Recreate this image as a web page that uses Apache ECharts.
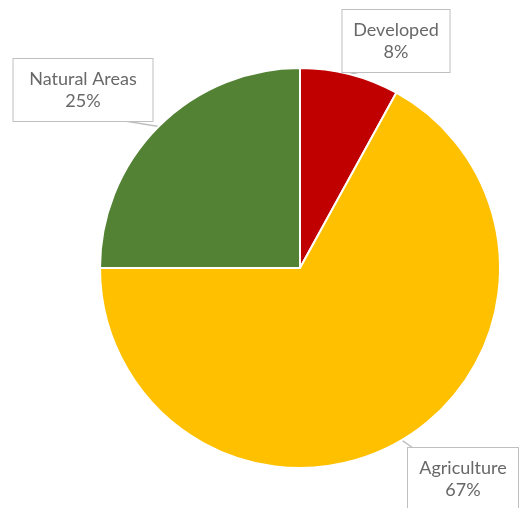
<!DOCTYPE html>
<html><head><meta charset="utf-8">
<script src="https://cdn.jsdelivr.net/npm/echarts@6/dist/echarts.min.js"></script>
<style>html,body{margin:0;padding:0;background:#fff}#c{width:527px;height:508px}</style>
</head><body><div id="c"></div>
<script>
var categories = ['Developed', 'Agriculture', 'Natural Areas'];
var values = [8, 67, 25];
var colors = ['#C00000', '#FFC000', '#548235'];
var labelPos = [[396, 41], [463, 479], [83, 90]];
var labelWidths = [107, 110, 139];
// where the callout meets the box, relative to box centre
var calloutAnchor = [[-36, 31], [-50, -31], [42, 31]];

var chart = echarts.init(document.getElementById('c'));
chart.setOption({
  animation: false,
  series: [{
    type: 'pie',
    center: [300, 268],
    radius: 200,
    startAngle: 90,
    clockwise: true,
    data: categories.map(function (n, i) {
      return { name: n, value: values[i], itemStyle: { color: colors[i] }, label: { width: labelWidths[i] } };
    }),
    itemStyle: { borderColor: '#fff', borderWidth: 2 },
    label: {
      show: true,
      formatter: '{b}\n{d}%',
      color: '#686868',
      fontFamily: 'Lato',
      fontSize: 18,
      lineHeight: 22,
      align: 'center',
      backgroundColor: '#fff',
      borderColor: '#bfbfbf',
      borderWidth: 1,
      padding: [9, 0, 9, 0]
    },
    labelLine: { show: true, length: 5, length2: 5, lineStyle: { color: '#bfbfbf', width: 1.5 } },
    labelLayout: function (p) {
      var i = p.dataIndex;
      var pos = labelPos[i];
      var res = { x: pos[0], y: pos[1], align: 'center', verticalAlign: 'middle' };
      if (p.labelLinePoints && p.labelLinePoints[0]) {
        var s = p.labelLinePoints[0];
        var e = [pos[0] + calloutAnchor[i][0], pos[1] + calloutAnchor[i][1]];
        res.labelLinePoints = [[s[0], s[1]], [e[0], e[1]], [e[0], e[1]]];
      }
      return res;
    }
  }]
});
</script></body></html>
